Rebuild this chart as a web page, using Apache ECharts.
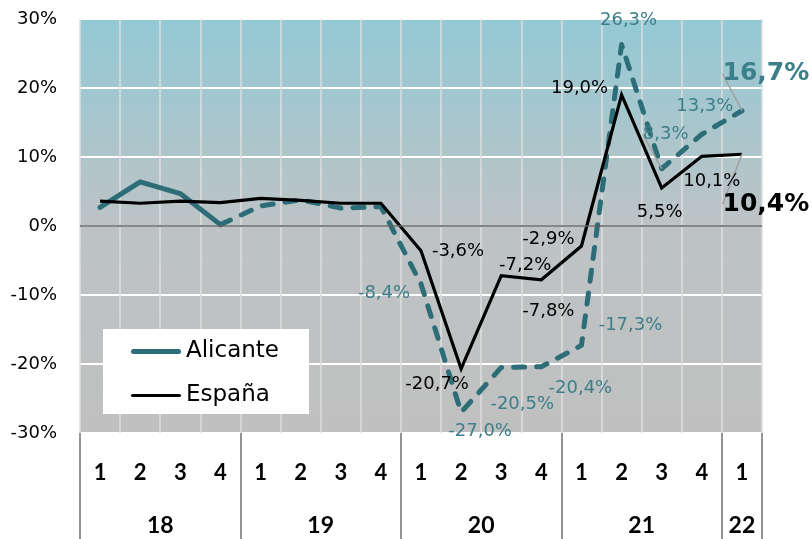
<!DOCTYPE html>
<html>
<head>
<meta charset="utf-8">
<script src="https://cdn.jsdelivr.net/npm/echarts@6/dist/echarts.min.js"></script>
<style>
  html, body { margin: 0; padding: 0; background: #fff; }
  #chart { width: 812px; height: 539px; }
</style>
</head>
<body>
<div id="chart"></div>
<script>
// quarters 2018Q1 .. 2022Q1
const quarters = ['1', '2', '3', '4', '1', '2', '3', '4', '1', '2', '3', '4', '1', '2', '3', '4', '1'];
const years = ['18', '19', '20', '21', '22'];
const quartersPerYear = [4, 4, 4, 4, 1];
const alicante = [2.7, 6.4, 4.7, 0.2, 2.9, 3.8, 2.6, 2.8, -8.4, -27.0, -20.5, -20.4, -17.3, 26.3, 8.3, 13.3, 16.7];
const espana = [3.6, 3.3, 3.6, 3.4, 4.0, 3.7, 3.3, 3.3, -3.6, -20.7, -7.2, -7.8, -2.9, 19.0, 5.5, 10.1, 10.4];

// label shifts (px) from the point, by index
const aliShift = {8: [-37, 9], 9: [19, 19], 10: [21, 37], 11: [39, 22], 12: [49, -20], 13: [7, -24], 14: [4, -34], 15: [3, -28], 16: [24, -37]};
const espShift = {8: [37, 0], 9: [-24, 15], 10: [24, -10], 11: [7, 32], 12: [-33, -7], 13: [-42, -7], 14: [-2, 24], 15: [10, 25], 16: [24, 50]};

const teal = '#2d6d78';
const tealText = '#3c7e89';
const last = quarters.length - 1;

// year boundaries and label centres on a 0..17 scale
let yearBounds = [0];
let yearMids = [];
quartersPerYear.forEach(function (n) {
    let s = yearBounds[yearBounds.length - 1];
    yearMids.push(s + n / 2);
    yearBounds.push(s + n);
});

function fmt(v) {
    return v.toFixed(1).replace('.', ',') + '%';
}

function labelled(values, shift, color, guideIdx) {
    return values.map(function (v, i) {
        if (!shift[i]) return v;
        let big = i === last;
        return {
            value: v,
            symbol: 'circle',
            symbolSize: 0,
            label: {
                show: true,
                position: 'inside',
                formatter: function (p) { return fmt(p.value); },
                color: color,
                fontFamily: 'DejaVu Sans',
                fontSize: big ? 25 : 18,
                fontWeight: big ? 'bold' : 'normal'
            },
            labelLine: {
                show: guideIdx.indexOf(i) > -1,
                lineStyle: {color: '#a0a0a0', width: 1.5}
            }
        };
    });
}

let chart = echarts.init(document.getElementById('chart'));
chart.setOption({
    animation: false,
    grid: {
        left: 80, right: 50, top: 19, bottom: 106,
        show: true,
        borderWidth: 0,
        backgroundColor: {
            type: 'linear', x: 0, y: 0, x2: 0, y2: 1,
            colorStops: [
                {offset: 0, color: '#93c9d5'},
                {offset: 0.5, color: '#bdc3c5'},
                {offset: 1, color: '#c0c0c0'}
            ]
        }
    },
    legend: {
        orient: 'vertical',
        left: 103,
        top: 329,
        backgroundColor: '#fff',
        padding: [11, 30, 7, 28],
        itemGap: 21,
        itemWidth: 50,
        itemHeight: 24,
        data: [
            {name: 'Alicante', icon: 'path://M2.5,0 L47.5,0 A2.5,2.5 0 0 1 47.5,5 L2.5,5 A2.5,2.5 0 0 1 2.5,0 Z'},
            {name: 'España', icon: 'path://M1.5,0 L48.5,0 A1.5,1.5 0 0 1 48.5,3 L1.5,3 A1.5,1.5 0 0 1 1.5,0 Z'}
        ],
        textStyle: {fontFamily: 'DejaVu Sans', fontSize: 23, color: '#000'}
    },
    xAxis: [{
        type: 'category',
        data: quarters,
        boundaryGap: true,
        axisLine: {show: false},
        axisTick: {show: false},
        splitLine: {show: true, lineStyle: {color: '#dedede', width: 1.5}},
        axisLabel: {
            interval: 0,
            margin: 29,
            fontFamily: 'Lato',
            fontWeight: 'bold',
            fontSize: 22,
            color: '#000'
        }
    }, {
        type: 'value',
        min: 0,
        max: quarters.length,
        position: 'bottom',
        axisLine: {show: false},
        splitLine: {show: false},
        axisTick: {
            show: true,
            customValues: yearBounds,
            length: 106,
            lineStyle: {color: '#707070', width: 1.5}
        },
        axisLabel: {
            customValues: yearMids,
            margin: 81,
            fontFamily: 'Lato',
            fontWeight: 'bold',
            fontSize: 23,
            color: '#000',
            formatter: function (v) { return years[yearMids.indexOf(v)]; }
        }
    }],
    yAxis: {
        type: 'value',
        min: -30,
        max: 30,
        interval: 10,
        axisLine: {show: false},
        axisTick: {show: false},
        splitLine: {lineStyle: {color: '#ffffff', width: 2}},
        axisLabel: {
            formatter: '{value}%',
            margin: 23,
            fontFamily: 'DejaVu Sans',
            fontSize: 18,
            color: '#000'
        }
    },
    series: [{
        name: 'Alicante',
        type: 'line',
        symbol: 'none',
        data: alicante.map(function (v, i) { return i <= 3 ? v : '-'; }),
        lineStyle: {color: teal, width: 5, cap: 'round', join: 'round'},
        itemStyle: {color: teal},
        z: 3
    }, {
        name: 'Alicante',
        type: 'line',
        symbol: 'none',
        data: labelled(alicante, aliShift, tealText, [14, 16]).map(function (d, i) { return i < 3 ? '-' : d; }),
        lineStyle: {color: teal, width: 5, type: [11, 12], cap: 'round', join: 'round'},
        itemStyle: {color: teal},
        labelLayout: function (p) {
            let s = aliShift[p.dataIndex];
            return s ? {dx: s[0], dy: s[1]} : {};
        },
        z: 3
    }, {
        name: 'España',
        type: 'line',
        symbol: 'none',
        data: labelled(espana, espShift, '#000', [16]),
        lineStyle: {color: '#000', width: 3.2, join: 'miter'},
        itemStyle: {color: '#000'},
        labelLayout: function (p) {
            let s = espShift[p.dataIndex];
            return s ? {dx: s[0], dy: s[1]} : {};
        },
        markLine: {
            silent: true,
            symbol: 'none',
            label: {show: false},
            lineStyle: {color: '#5f5f5f', width: 1.5, type: 'solid'},
            data: [{yAxis: 0}]
        },
        z: 4
    }]
});
</script>
</body>
</html>
